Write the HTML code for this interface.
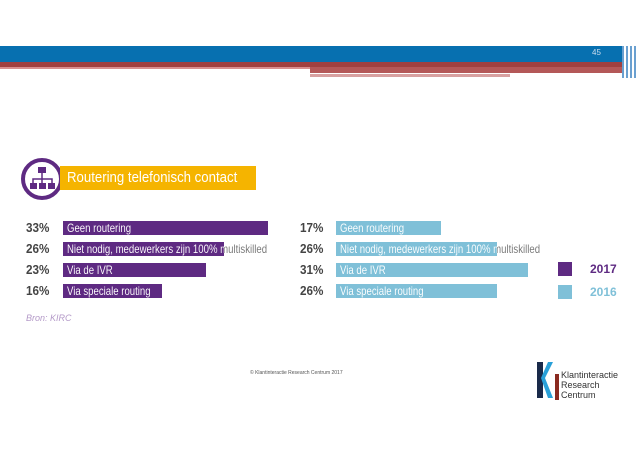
<!DOCTYPE html>
<html><head><meta charset="utf-8"><style>
body{margin:0;width:638px;height:452px;background:#fff;position:relative;overflow:hidden;font-family:"Liberation Sans",sans-serif}
.a{position:absolute}
.pct{position:absolute;font-weight:bold;font-size:13px;color:#444;transform:scaleX(0.9);transform-origin:left}
.bar{position:absolute;height:14px}
.lbl{position:absolute;font-size:12px;white-space:nowrap;color:#fff;line-height:14px;padding-left:5px;transform:scaleX(0.8);transform-origin:left}
</style></head><body>
<div class="a" style="left:0;top:46px;width:625px;height:16px;background:#0770b0"></div>
<div class="a" style="left:0;top:62px;width:625px;height:5px;background:#a04040"></div>
<div class="a" style="left:0;top:67px;width:310px;height:2px;background:#d89090"></div>
<div class="a" style="left:310px;top:67px;width:315px;height:6px;background:#b45858"></div>
<div class="a" style="left:310px;top:74px;width:200px;height:3px;background:#d8a0a0"></div>
<div class="a" style="left:622px;top:46px;width:16px;height:32px;background:repeating-linear-gradient(90deg,#6aa0d0 0 2px,#fff 2px 4px)"></div>
<div class="a" style="left:592px;top:48px;font-size:8px;color:#cde">45</div>

<svg class="a" style="left:20px;top:157px" width="44" height="44" viewBox="0 0 44 44">
<circle cx="22" cy="22" r="19" fill="none" stroke="#5e2a82" stroke-width="4"/>
<rect x="18" y="10" width="8" height="6" fill="#5e2a82"/><rect x="10" y="26" width="7" height="6" fill="#5e2a82"/><rect x="19" y="26" width="7" height="6" fill="#5e2a82"/><rect x="28" y="26" width="7" height="6" fill="#5e2a82"/>
<path d="M22 16v10M13 26v-4h19v4" stroke="#5e2a82" stroke-width="1.5" fill="none"/></svg>
<div class="a" style="left:60px;top:166px;width:196px;height:24px;background:#f5b400"></div>
<div class="a" style="left:67px;top:166px;color:#fff;font-size:15px;line-height:24px;white-space:nowrap;transform:scaleX(0.88);transform-origin:left">Routering telefonisch contact</div>
<div class="a" style="left:26px;top:313px;font-size:9px;font-style:italic;color:#b49ac8">Bron: KIRC</div>

<div id="chart"></div>
<div class="a" style="left:558px;top:262px;width:14px;height:14px;background:#5e2a82"></div>
<div class="a" style="left:590px;top:262px;font-size:12px;font-weight:bold;color:#5e2a82">2017</div>
<div class="a" style="left:558px;top:285px;width:14px;height:14px;background:#7fc0d8"></div>
<div class="a" style="left:590px;top:285px;font-size:12px;font-weight:bold;color:#7fc0d8">2016</div>

<div class="a" style="left:250px;top:370px;font-size:5px;color:#555">© Klantinteractie Research Centrum 2017</div>
<div class="a" style="left:535px;top:360px;width:70px;height:42px">
<svg width="28" height="42" style="position:absolute;left:0;top:0"><path d="M2 2h6v36H2z" fill="#1a2a4a"/><path d="M18 2l-8 16 8 20h-5l-7-20 7-16z" fill="#29a0d8"/><rect x="20" y="14" width="4" height="26" fill="#8a2a20"/></svg>
<div style="position:absolute;left:26px;top:10px;font-size:9px;line-height:10px;color:#333">Klantinteractie<br>Research<br>Centrum</div></div>

<script>
const categories=["Geen routering","Niet nodig, medewerkers zijn 100% multiskilled","Via de IVR","Via speciale routing"];
const values2017=[33,26,23,16];
const values2016=[17,26,31,26];
const scale=v=>v*6.2;
const rowY=i=>221+i*21;
const SX=0.8;
const chart=document.getElementById('chart');
function panel(vals,px,bx,color,year){
 vals.forEach((v,i)=>{
  const p=document.createElement('div');p.className='pct';
  p.style.left=px+'px';p.style.top=(rowY(i)-1)+'px';p.textContent=v+'%';
  
  
  chart.appendChild(p);
  const b=document.createElement('div');b.className='bar';
  b.style.left=bx+'px';b.style.top=rowY(i)+'px';b.style.width=scale(v)+'px';b.style.background=color;
  
  
  chart.appendChild(b);
  const l=document.createElement('div');l.className='lbl';
  l.style.left=bx+'px';l.style.top=rowY(i)+'px';l.textContent=categories[i];
  
  
  const cut=scale(v)/SX;
  l.style.backgroundImage='linear-gradient(90deg,#fff '+cut+'px,#777 '+cut+'px)';
  l.style.color='transparent';
  l.style.webkitBackgroundClip='text';
  l.style.backgroundClip='text';
  chart.appendChild(l);
 });
}
panel(values2017,26,63,'#5e2a82','2017');
panel(values2016,300,336,'#7fc0d8','2016');
</script>
</body></html>
